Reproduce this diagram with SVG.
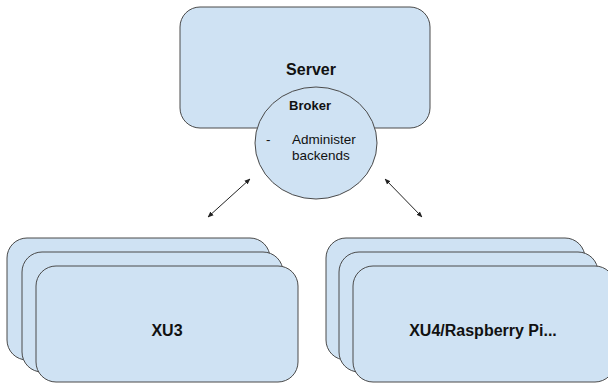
<svg xmlns="http://www.w3.org/2000/svg" width="608" height="384" viewBox="0 0 608 384">
<style>
.box{fill:#cfe2f3;stroke:#4a4a4a;stroke-width:1}
.t{font-family:"Liberation Sans",Arial,sans-serif;fill:#111}
.b{font-weight:bold;text-anchor:middle}
.conn{stroke:#222;stroke-width:1;fill:none;marker-start:url(#ah);marker-end:url(#ah)}
</style>
<defs>
<marker id="ah" viewBox="0 0 10 10" refX="9" refY="5" markerWidth="6" markerHeight="6" markerUnits="userSpaceOnUse" orient="auto-start-reverse">
<path d="M0,1 L10,5 L0,9 z" fill="#222"/>
</marker>
</defs>
<rect width="608" height="384" fill="#fff"/>
<g id="server">
<rect class="box" x="180" y="7" width="250" height="121" rx="20"/>
<text class="t b" x="311" y="75" font-size="16">Server</text>
</g>
<g id="broker">
<ellipse class="box" cx="316" cy="143" rx="61" ry="56"/>
<text class="t b" x="310" y="110" font-size="13">Broker</text>
<text class="t" x="266" y="144" font-size="13.5">-</text>
<text class="t" x="292" y="144" font-size="13.5">Administer</text>
<text class="t" x="292" y="160" font-size="13.5">backends</text>
</g>
<g id="xu3">
<rect class="box" x="7" y="238" width="263" height="122" rx="20"/>
<rect class="box" x="22" y="252" width="261" height="120" rx="20"/>
<rect class="box" x="36" y="266" width="262" height="116" rx="20"/>
<text class="t b" x="167" y="336" font-size="16">XU3</text>
</g>
<g id="xu4">
<rect class="box" x="326" y="238" width="259" height="122" rx="20"/>
<rect class="box" x="339" y="252" width="259" height="120" rx="20"/>
<rect class="box" x="353" y="266" width="262" height="116" rx="20"/>
<text class="t b" x="483" y="336" font-size="16">XU4/Raspberry Pi...</text>
</g>
<g id="connectors">
<line class="conn" x1="208" y1="217" x2="250" y2="179"/>
<line class="conn" x1="385" y1="179" x2="422" y2="217"/>
</g>
</svg>
